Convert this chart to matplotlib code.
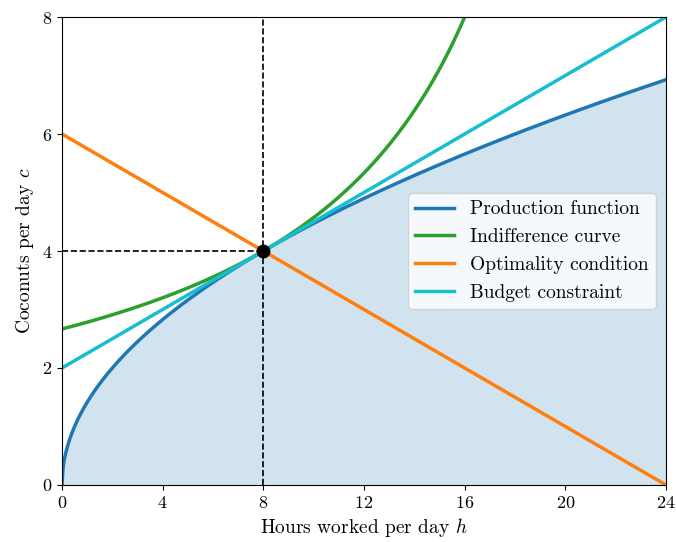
import numpy as np
import matplotlib
matplotlib.use('Agg')
import matplotlib.pyplot as plt

plt.rcParams['font.family'] = 'serif'
plt.rcParams['font.serif'] = ['cmr10']
plt.rcParams['mathtext.fontset'] = 'cm'
plt.rcParams['axes.formatter.use_mathtext'] = True
plt.rcParams['axes.unicode_minus'] = False
plt.rcParams['font.size'] = 12

## values ##
h_star = 8.0          # optimal hours
c_star = 4.0          # optimal coconuts
hours_total = 24.0    # hours in a day
prod_scale = 2.0      # c = sqrt(prod_scale * h)
budget_intercept = 2.0
budget_slope = 0.25
opt_intercept = 6.0
opt_slope = -0.25
utility_level = 64.0  # c * (24 - h)

x_ticks = [0, 4, 8, 12, 16, 20, 24]
y_ticks = [0, 2, 4, 6, 8]
labels = ['Production function', 'Indifference curve',
          'Optimality condition', 'Budget constraint']

h = np.linspace(0, hours_total, 600)
c_prod = np.sqrt(prod_scale * h)
h_ind = np.linspace(0, 16.5, 600)
c_ind = utility_level / (hours_total - h_ind)
c_budget = budget_intercept + budget_slope * h
c_opt = opt_intercept + opt_slope * h

fig = plt.figure(figsize=(6.76, 5.42), dpi=100)
ax = fig.add_axes([0.0917, 0.1052, 0.8935, 0.8634])

ax.fill_between(h, 0, c_prod, color='C0', alpha=0.2, lw=0)
ax.plot(h, c_prod, color='C0', lw=2.5, label=labels[0])
ax.plot(h_ind, c_ind, color='C2', lw=2.5, label=labels[1])
ax.plot(h, c_opt, color='C1', lw=2.5, label=labels[2])
ax.plot(h, c_budget, color='C9', lw=2.5, label=labels[3])

ax.plot([0, h_star], [c_star, c_star], 'k--', lw=1.2)
ax.plot([h_star, h_star], [0, 8], 'k--', lw=1.2)
ax.plot(h_star, c_star, 'o', color='k', ms=9, zorder=5)

ax.set_xlim(0, 24)
ax.set_ylim(0, 8)
ax.set_xticks(x_ticks)
ax.set_yticks(y_ticks)
ax.tick_params(labelsize=13)
ax.set_xlabel('Hours worked per day $h$', fontsize=14)
ax.set_ylabel('Coconuts per day $c$', fontsize=14)
ax.legend(loc='center right', bbox_to_anchor=(1.0, 0.5), fontsize=14)

fig.savefig('out.png', dpi=100)
